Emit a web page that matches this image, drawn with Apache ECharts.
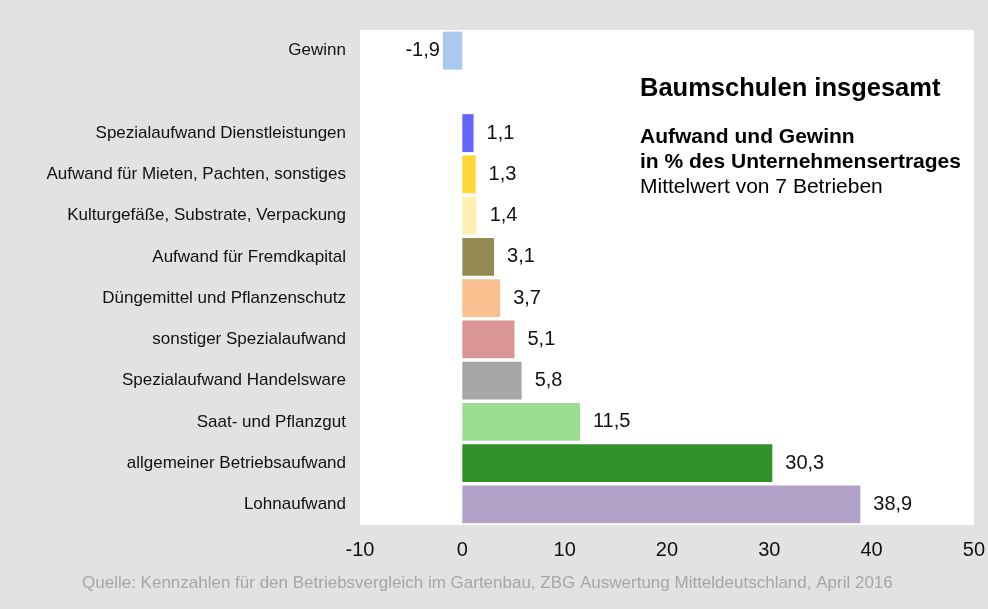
<!DOCTYPE html>
<html>
<head>
<meta charset="utf-8">
<script src="https://cdn.jsdelivr.net/npm/echarts@6/dist/echarts.min.js"></script>
<style>
  html, body { margin: 0; padding: 0; background: #e2e2e2; }
  #chart { width: 988px; height: 609px; }
</style>
</head>
<body>
<div id="chart"></div>
<script>
// categories top to bottom, '' is the empty gap row
var categories = ['Gewinn', '', 'Spezialaufwand Dienstleistungen', 'Aufwand für Mieten, Pachten, sonstiges',
    'Kulturgefäße, Substrate, Verpackung', 'Aufwand für Fremdkapital', 'Düngemittel und Pflanzenschutz',
    'sonstiger Spezialaufwand', 'Spezialaufwand Handelsware', 'Saat- und Pflanzgut',
    'allgemeiner Betriebsaufwand', 'Lohnaufwand'];
var values = [-1.9, null, 1.1, 1.3, 1.4, 3.1, 3.7, 5.1, 5.8, 11.5, 30.3, 38.9];
var colors = ['#a9c9ef', '#ffffff', '#6666ff', '#ffd633', '#fff0b3', '#948a54', '#fac090',
    '#d99694', '#a6a6a6', '#9bde91', '#32912b', '#b3a2c7'];
var xTicks = { min: -10, max: 50, interval: 10 };

var font = "'Liberation Sans', Arial, sans-serif";
var myChart = echarts.init(document.getElementById('chart'));

var data = values.map(function (v, i) {
    var item = { value: v, itemStyle: { color: colors[i] } };
    if (v !== null && v < 0) {
        item.label = { position: 'left', distance: 3 };
    }
    return item;
});

var option = {
    backgroundColor: '#e2e2e2',
    animation: false,
    grid: {
        left: 360, right: 14, top: 30, bottom: 84,
        show: true, backgroundColor: '#ffffff', borderWidth: 0
    },
    xAxis: {
        type: 'value',
        min: xTicks.min, max: xTicks.max, interval: xTicks.interval,
        axisLine: { show: false },
        axisTick: { show: false },
        splitLine: { show: false },
        axisLabel: { fontSize: 20, color: '#111', fontFamily: font, margin: 15 }
    },
    yAxis: {
        type: 'category',
        inverse: true,
        data: categories,
        axisLine: { show: false },
        axisTick: { show: false },
        axisLabel: { fontSize: 17, color: '#111', fontFamily: font, margin: 14 }
    },
    series: [{
        type: 'bar',
        barWidth: '92%',
        data: data,
        label: {
            show: true,
            position: 'right',
            distance: 13,
            fontSize: 20,
            color: '#111',
            fontFamily: font,
            formatter: function (p) {
                return p.value === null ? '' : String(p.value).replace('.', ',');
            }
        }
    }],
    graphic: [
        { type: 'text', left: 640, top: 76,
          style: { text: 'Baumschulen insgesamt', font: 'bold 25.5px ' + font, fill: '#000' } },
        { type: 'text', left: 640, top: 127,
          style: { text: 'Aufwand und Gewinn', font: 'bold 21px ' + font, fill: '#000' } },
        { type: 'text', left: 640, top: 152,
          style: { text: 'in % des Unternehmensertrages', font: 'bold 21px ' + font, fill: '#000' } },
        { type: 'text', left: 640, top: 177,
          style: { text: 'Mittelwert von 7 Betrieben', font: '21px ' + font, fill: '#000' } },
        { type: 'text', left: 82, top: 575,
          style: { text: 'Quelle: Kennzahlen für den Betriebsvergleich im Gartenbau, ZBG Auswertung Mitteldeutschland, April 2016',
                   font: '17px ' + font, fill: '#a6a6a6' } }
    ]
};
myChart.setOption(option);
</script>
</body>
</html>
